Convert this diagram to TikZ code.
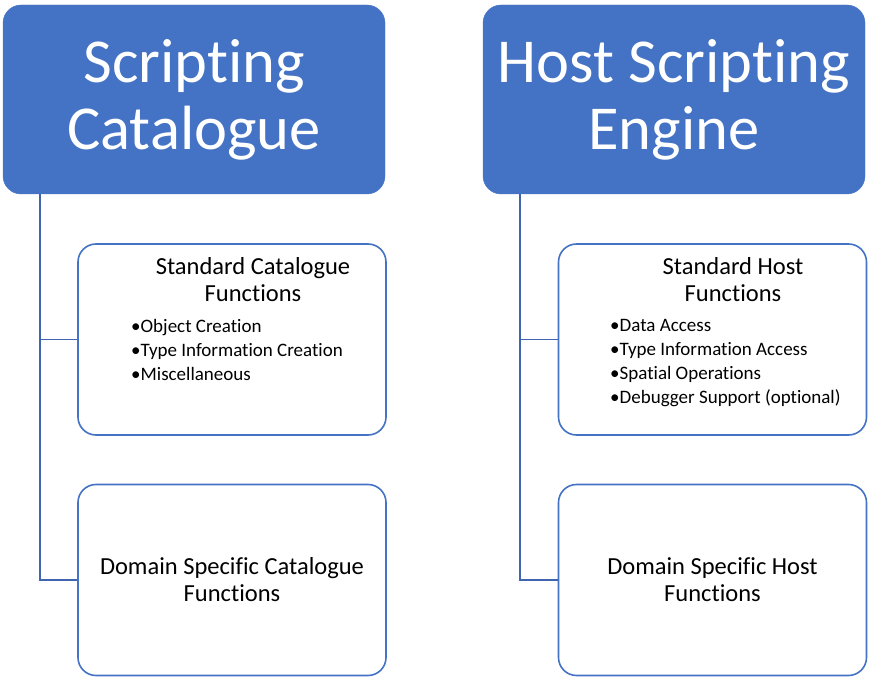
\documentclass[tikz,border=0pt]{standalone}
\usepackage{fontspec}
\setmainfont{Carlito}[Ligatures={NoCommon}]
\usetikzlibrary{calc}
\definecolor{oblue}{HTML}{4472C4}
\definecolor{lineblue}{HTML}{3F65B0}
\begin{document}
\begin{tikzpicture}[x=1pt,y=-1pt,
  titlebox/.style={draw=oblue,fill=oblue,rounded corners=18pt,minimum width=382pt,minimum height=189pt,inner sep=0pt,text=white,align=center,font=\fontsize{62.5}{67}\selectfont},
  subbox/.style={draw=oblue,line width=1.6pt,fill=white,rounded corners=18pt,minimum width=308pt,minimum height=191pt,inner sep=0pt},
  conn/.style={draw=lineblue,line width=1.8pt},
  head/.style={align=center,font=\fontsize{24.5}{27}\selectfont,inner sep=0pt},
  bullets/.style={align=left,font=\fontsize{19}{24}\selectfont,inner sep=0pt,anchor=north west}]
\useasboundingbox (0,0) rectangle (871,679);
% title boxes
\node[titlebox] (tl) at (194,99.5) {\raisebox{-3pt}{Scripting}\\\raisebox{-3pt}{Catalogue}};
\node[titlebox] (tr) at (674,99.5) {\raisebox{-3pt}{Host Scripting}\\\raisebox{-3pt}{Engine}};
% sub boxes
\node[subbox] (sl) at (232,339.5) {};
\node[subbox] (dl) at (232,580) {};
\node[subbox] (sr) at (712.5,339.5) {};
\node[subbox] (dr) at (712.5,580) {};
% connectors
\coordinate (cl) at ($(tl.south west)+(37,0)$);
\coordinate (cr) at ($(tr.south west)+(37,0)$);
\draw[conn] (cl) |- (sl.west);
\draw[conn] (cl) |- (dl.west);
\draw[conn] (cr) |- (sr.west);
\draw[conn] (cr) |- (dr.west);
% texts
\node[head] (slh) at (253,280) {Standard Catalogue\\Functions};
\node[bullets] (slb) at (131,319.5) {•Object Creation\\•Type Information Creation\\•Miscellaneous};
\node[head] (srh) at (733,280) {Standard Host\\Functions};
\node[bullets] (srb) at (610,319.5) {•Data Access\\•Type Information Access\\•Spatial Operations\\•Debugger Support (optional)};
\node[head] (dlh) at (232,580) {Domain Specific Catalogue\\Functions};
\node[head] (drh) at (712.5,580) {Domain Specific Host\\Functions};
\end{tikzpicture}
\end{document}
